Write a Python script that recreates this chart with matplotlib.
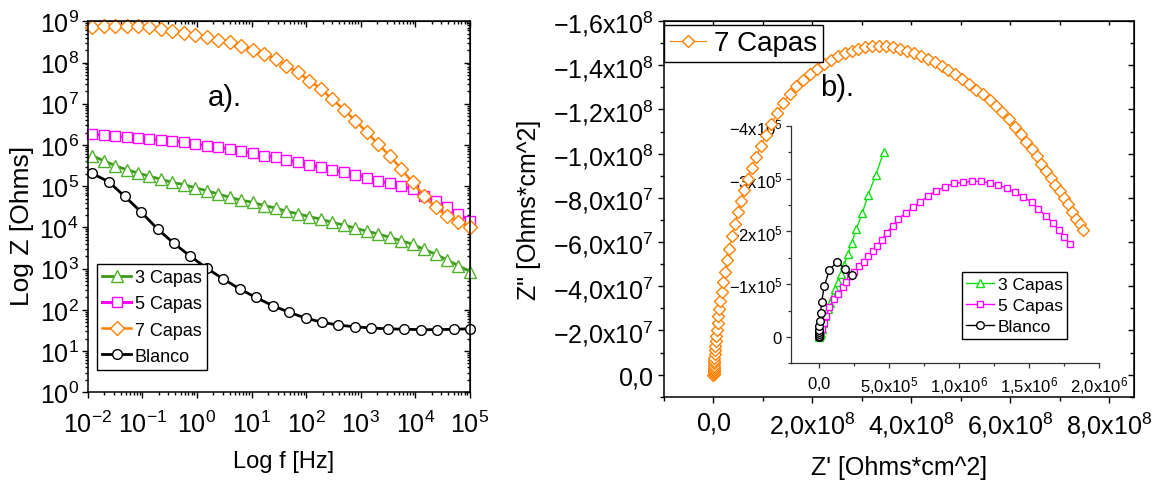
import numpy as np
import matplotlib
matplotlib.use("Agg")
import matplotlib.pyplot as plt
from matplotlib.ticker import (LogLocator, NullFormatter, LogFormatterMathtext,
                               MultipleLocator, FuncFormatter)

plt.rcParams['font.family'] = ['Liberation Sans', 'DejaVu Sans']
plt.rcParams['mathtext.fontset'] = 'custom'
plt.rcParams['mathtext.rm'] = 'Liberation Sans'
plt.rcParams['mathtext.it'] = 'Liberation Sans:italic'
plt.rcParams['mathtext.bf'] = 'Liberation Sans:bold'

# ---- Bode data: log10(f / Hz) and log10(|Z| / Ohms) ----
logf_capas = [-1.92, -1.71, -1.50, -1.29, -1.08, -0.87, -0.66, -0.45, -0.24, -0.03,
              0.18, 0.39, 0.60, 0.81, 1.02, 1.23, 1.44, 1.64, 1.85, 2.06,
              2.27, 2.48, 2.69, 2.90, 3.11, 3.32, 3.53, 3.74, 3.95, 4.16,
              4.37, 4.58, 4.79, 5.00]
logz_3capas = [5.74, 5.62, 5.50, 5.40, 5.32, 5.24, 5.17, 5.09, 5.04, 4.96,
               4.89, 4.81, 4.73, 4.66, 4.61, 4.53, 4.47, 4.39, 4.33, 4.26,
               4.20, 4.12, 4.06, 3.98, 3.91, 3.84, 3.76, 3.68, 3.59, 3.47,
               3.35, 3.21, 3.07, 2.93]
logz_5capas = [6.27, 6.23, 6.21, 6.19, 6.17, 6.14, 6.12, 6.10, 6.06, 6.02,
               5.98, 5.94, 5.90, 5.85, 5.80, 5.74, 5.70, 5.64, 5.58, 5.52,
               5.46, 5.40, 5.34, 5.28, 5.21, 5.13, 5.07, 5.01, 4.92, 4.77,
               4.65, 4.49, 4.33, 4.16]
logz_7capas = [8.85, 8.88, 8.89, 8.89, 8.89, 8.85, 8.81, 8.77, 8.72, 8.67,
               8.61, 8.55, 8.49, 8.41, 8.31, 8.21, 8.09, 7.92, 7.76, 7.56,
               7.36, 7.11, 6.86, 6.59, 6.31, 6.02, 5.74, 5.42, 5.09, 4.77,
               4.49, 4.28, 4.14, 4.02]
logf_blanco = [-1.92, -1.62, -1.32, -1.02, -0.72, -0.42, -0.12, 0.18, 0.48, 0.78,
               1.08, 1.39, 1.69, 1.99, 2.29, 2.59, 2.89, 3.19, 3.49, 3.80,
               4.10, 4.40, 4.70, 5.00]
logz_blanco = [5.31, 5.11, 4.75, 4.37, 3.96, 3.61, 3.30, 3.01, 2.75, 2.51,
               2.30, 2.10, 1.94, 1.80, 1.70, 1.63, 1.59, 1.56, 1.54, 1.53,
               1.52, 1.52, 1.53, 1.54]

# ---- Nyquist, 7 Capas (x1e8 Ohms*cm^2), -Z'' kept positive ----
zre_7capas = [0.000, 0.001, 0.002, 0.003, 0.004, 0.006, 0.008, 0.011, 0.014, 0.018,
              0.023, 0.029, 0.036, 0.045, 0.056, 0.068, 0.082, 0.098, 0.117, 0.140,
              0.167, 0.198, 0.234, 0.275, 0.320, 0.37, 0.43, 0.49, 0.55, 0.62,
              0.69, 0.77, 0.86, 0.96, 1.06, 1.17, 1.29, 1.41, 1.54, 1.67,
              1.81, 1.95, 2.09, 2.23, 2.37, 2.51, 2.65, 2.79, 2.93, 3.07,
              3.21, 3.35, 3.49, 3.63, 3.77, 3.91, 4.05, 4.19, 4.33, 4.47,
              4.61, 4.75, 4.89, 5.03, 5.17, 5.31, 5.45, 5.58, 5.71, 5.84,
              5.97, 6.09, 6.21, 6.32, 6.43, 6.53, 6.63, 6.73, 6.82, 6.91,
              7.00, 7.08, 7.16, 7.24, 7.32, 7.40, 7.47]
zim_7capas = [0.000, 0.004, 0.009, 0.015, 0.022, 0.030, 0.040, 0.051, 0.063, 0.077,
              0.093, 0.110, 0.128, 0.150, 0.175, 0.202, 0.232, 0.264, 0.298, 0.335,
              0.375, 0.418, 0.465, 0.518, 0.570, 0.625, 0.680, 0.735, 0.785, 0.835,
              0.885, 0.935, 0.985, 1.035, 1.085, 1.135, 1.185, 1.230, 1.270, 1.305,
              1.335, 1.362, 1.385, 1.405, 1.423, 1.440, 1.455, 1.466, 1.475, 1.481,
              1.485, 1.487, 1.486, 1.481, 1.474, 1.465, 1.455, 1.443, 1.430, 1.415,
              1.398, 1.380, 1.360, 1.338, 1.314, 1.288, 1.268, 1.243, 1.215, 1.186,
              1.155, 1.122, 1.088, 1.054, 1.020, 0.988, 0.955, 0.922, 0.890, 0.860,
              0.830, 0.800, 0.770, 0.738, 0.705, 0.680, 0.655]

# ---- Nyquist inset (x1e5 Ohms*cm^2), -Z'' kept positive ----
zre_3capas = [0.00, 0.01, 0.02, 0.04, 0.06, 0.09, 0.13, 0.20, 0.32, 0.47,
              0.63, 0.80, 0.99, 1.18, 1.35, 1.59, 1.80, 2.08, 2.34, 2.68,
              3.09, 3.51, 4.06, 4.63]
zim_3capas = [0.00, 0.01, 0.015, 0.025, 0.035, 0.05, 0.08, 0.15, 0.27, 0.40,
              0.53, 0.65, 0.78, 0.905, 1.04, 1.19, 1.37, 1.565, 1.785, 2.05,
              2.345, 2.69, 3.07, 3.51]
zre_5capas = [0.00, 0.01, 0.02, 0.04, 0.06, 0.10, 0.21, 0.35, 0.52, 0.75,
              1.06, 1.35, 1.70, 1.95, 2.23, 2.54, 2.90, 3.21, 3.52, 3.85,
              4.14, 4.47, 4.85, 5.28, 5.64, 6.19, 6.71, 7.24, 7.81, 8.39,
              9.01, 9.63, 10.25, 10.89, 11.54, 12.20, 12.80, 13.40, 13.99, 14.59,
              15.19, 15.66, 16.19, 16.69, 17.10, 17.50, 17.93]
zim_5capas = [0.00, 0.01, 0.02, 0.03, 0.04, 0.06, 0.15, 0.27, 0.40, 0.56,
              0.72, 0.82, 0.95, 1.04, 1.15, 1.24, 1.34, 1.43, 1.54, 1.63,
              1.73, 1.84, 1.98, 2.11, 2.23, 2.35, 2.46, 2.56, 2.68, 2.77,
              2.85, 2.91, 2.93, 2.95, 2.95, 2.92, 2.88, 2.82, 2.74, 2.66,
              2.55, 2.42, 2.30, 2.16, 2.03, 1.90, 1.76]
zre_blanco = [0.00, 0.00, 0.00, 0.01, 0.02, 0.04, 0.08, 0.13, 0.20, 0.40,
              0.75, 1.30, 1.87, 2.40]
zim_blanco = [0.00, 0.02, 0.05, 0.09, 0.13, 0.20, 0.30, 0.46, 0.67, 0.97,
              1.27, 1.42, 1.29, 1.17]

GREEN = '#4fb12c'
GREEN_LINE = '#3c9a1c'
LIME = '#10e010'
MAGENTA = '#ff00ff'
ORANGE = '#ff7f00'


def comma_sci(decimals, tail=''):
    # tick labels like "-1,6x10^8" with a decimal comma
    def fmt(v, pos):
        if abs(v) < 1e-6:
            m = '0{,}0' if decimals else '0'
            return r'$\mathregular{' + m + tail + '}$'
        e = int(np.floor(np.log10(abs(v)) + 1e-9))
        m = f'{v / 10 ** e:.{decimals}f}'.replace('.', '{,}')
        return r'$\mathregular{' + m + r'x10^{' + str(e) + '}' + tail + '}$'
    return FuncFormatter(fmt)


fig = plt.figure(figsize=(11.67, 4.89), dpi=100)

# ================= a) Bode plot =================
ax1 = fig.add_axes([0.0752, 0.1957, 0.3275, 0.7587])
ax1.set_xscale('log')
ax1.set_yscale('log')

ax1.plot(10 ** np.array(logf_capas), 10 ** np.array(logz_3capas), '-', color=GREEN_LINE,
         lw=2, marker='^', ms=8.5, mfc='white', mec=GREEN, mew=1, label='3 Capas', clip_on=False)
ax1.plot(10 ** np.array(logf_capas), 10 ** np.array(logz_5capas), '-', color=MAGENTA,
         lw=2.2, marker='s', ms=7, mfc='white', mec=MAGENTA, mew=1, label='5 Capas', clip_on=False)
ax1.plot(10 ** np.array(logf_capas), 10 ** np.array(logz_7capas), '-', color=ORANGE,
         lw=1.8, marker='D', ms=6.8, mfc='white', mec=ORANGE, mew=1, label='7 Capas', clip_on=False)
ax1.plot(10 ** np.array(logf_blanco), 10 ** np.array(logz_blanco), '-', color='black',
         lw=2, marker='o', ms=7, mfc='white', mec='black', mew=1, label='Blanco', clip_on=False)

ax1.set_xlim(1e-2, 1e5)
ax1.set_ylim(1, 1e9)
for axis in (ax1.xaxis, ax1.yaxis):
    axis.set_major_locator(LogLocator(base=10, numticks=20))
    axis.set_minor_locator(LogLocator(base=10, subs=np.arange(2, 10), numticks=100))
    axis.set_major_formatter(LogFormatterMathtext())
    axis.set_minor_formatter(NullFormatter())
ax1.tick_params(which='both', direction='out', labelsize=18, width=1)
ax1.tick_params(which='major', length=4.5)
ax1.tick_params(which='minor', length=2.5)
ax1.tick_params(axis='x', pad=9)
ax1.tick_params(axis='y', pad=2)

for loc in ('top', 'right'):
    sec = ax1.secondary_xaxis('top') if loc == 'top' else ax1.secondary_yaxis('right')
    axis = sec.xaxis if loc == 'top' else sec.yaxis
    axis.set_major_locator(LogLocator(base=10, numticks=20))
    axis.set_minor_locator(LogLocator(base=10, subs=np.arange(2, 10), numticks=100))
    axis.set_major_formatter(NullFormatter())
    axis.set_minor_formatter(NullFormatter())
    sec.tick_params(which='both', direction='in', width=1)
    sec.tick_params(which='major', length=4.5)
    sec.tick_params(which='minor', length=2.5)

for sp in ax1.spines.values():
    sp.set_linewidth(1.1)

ax1.set_xlabel('Log f [Hz]', fontsize=17)
ax1.set_ylabel('Log Z [Ohms]', fontsize=19)
ax1.xaxis.set_label_coords(0.513, -0.155)
ax1.yaxis.set_label_coords(-0.14, 0.45)
fig.text(0.193, 0.80, 'a).', fontsize=21, ha='center', va='center')

ax1.legend(loc='upper left', bbox_to_anchor=(0.0829, 0.458), bbox_transform=fig.transFigure,
           fontsize=13, frameon=True, fancybox=False, edgecolor='black', framealpha=1,
           borderaxespad=0, borderpad=0.3, labelspacing=0.5, handlelength=1.6,
           handletextpad=0.2).get_frame().set_linewidth(1)

# ================= b) Nyquist plot =================
ax2 = fig.add_axes([0.569, 0.1867, 0.4027, 0.7683])
ax2.set_zorder(2)
ax2.patch.set_visible(False)
ax2.plot(np.array(zre_7capas) * 1e8, -np.array(zim_7capas) * 1e8, '-', color=ORANGE, lw=0.8,
         marker='D', ms=6.6, mfc='white', mec=ORANGE, mew=1, label='7 Capas')
ax2.set_xlim(-1e8, 8.5e8)
ax2.set_ylim(1e7, -1.6e8)
ax2.xaxis.set_major_locator(MultipleLocator(2e8))
ax2.xaxis.set_minor_locator(MultipleLocator(1e8))
ax2.yaxis.set_major_locator(MultipleLocator(2e7))
ax2.yaxis.set_minor_locator(MultipleLocator(1e7))
ax2.xaxis.set_major_formatter(comma_sci(1))
ax2.yaxis.set_major_formatter(comma_sci(1))
ax2.tick_params(which='both', direction='out', labelsize=18, width=1)
ax2.tick_params(which='major', length=4.5)
ax2.tick_params(which='minor', length=3)
ax2.tick_params(axis='x', pad=5)
ax2.tick_params(axis='y', pad=3)

sec = ax2.secondary_xaxis('top')
sec.xaxis.set_major_locator(MultipleLocator(2e8))
sec.xaxis.set_minor_locator(MultipleLocator(1e8))
sec.xaxis.set_major_formatter(NullFormatter())
sec.tick_params(which='both', direction='in', length=3, width=1)
sec = ax2.secondary_yaxis('right')
sec.yaxis.set_major_locator(MultipleLocator(2e7))
sec.yaxis.set_minor_locator(MultipleLocator(1e7))
sec.yaxis.set_major_formatter(NullFormatter())
sec.tick_params(which='major', direction='in', length=4.5, width=1)
sec.tick_params(which='minor', direction='in', length=3, width=1)

for sp in ax2.spines.values():
    sp.set_linewidth(1.1)

ax2.set_xlabel("Z' [Ohms*cm^2]", fontsize=18)
ax2.set_ylabel('Z" [Ohms*cm^2]', fontsize=18)
ax2.xaxis.set_label_coords(0.5, -0.155)
ax2.yaxis.set_label_coords(-0.262, 0.5)
fig.text(0.717, 0.82, 'b).', fontsize=21, ha='center', va='center')

ax2.legend(loc='upper left', bbox_to_anchor=(0.569, 0.947), bbox_transform=fig.transFigure,
           fontsize=20, frameon=True, fancybox=False, edgecolor='black', framealpha=1,
           borderaxespad=0, borderpad=0.2, handlelength=1.3,
           handletextpad=0.3).get_frame().set_linewidth(1)

# ---- inset ----
ax3 = fig.add_axes([0.6776, 0.255, 0.2644, 0.4853])
ax3.set_zorder(1)
ax3.patch.set_visible(False)
ax3.plot(np.array(zre_3capas) * 1e5, -np.array(zim_3capas) * 1e5, '-', color=LIME, lw=1,
         marker='^', ms=5.5, mfc='white', mec=LIME, mew=1, label='3 Capas')
ax3.plot(np.array(zre_5capas) * 1e5, -np.array(zim_5capas) * 1e5, '-', color=MAGENTA, lw=1,
         marker='s', ms=5, mfc='white', mec=MAGENTA, mew=1, label='5 Capas')
ax3.plot(np.array(zre_blanco) * 1e5, -np.array(zim_blanco) * 1e5, '-', color='black', lw=1,
         marker='o', ms=5.5, mfc='white', mec='black', mew=1, label='Blanco')
ax3.set_xlim(-2e5, 2e6)
ax3.set_ylim(5e4, -4e5)
ax3.spines['top'].set_visible(False)
ax3.spines['right'].set_visible(False)
for sp in ('left', 'bottom'):
    ax3.spines[sp].set_linewidth(0.9)
    ax3.spines[sp].set_color('#333333')
ax3.xaxis.set_major_locator(MultipleLocator(5e5))
ax3.xaxis.set_minor_locator(MultipleLocator(2.5e5))
ax3.yaxis.set_major_locator(MultipleLocator(1e5))
ax3.yaxis.set_minor_locator(MultipleLocator(5e4))
ax3.xaxis.set_major_formatter(comma_sci(1, tail=r'\quad'))
ax3.yaxis.set_major_formatter(comma_sci(0))
ax3.tick_params(which='both', direction='out', labelsize=12, width=0.9, color='#333333')
ax3.tick_params(which='major', length=3.5)
ax3.tick_params(which='minor', length=2)
ax3.tick_params(axis='x', pad=4)
ax3.tick_params(axis='y', pad=2)

ax3.legend(loc='upper left', bbox_to_anchor=(0.824, 0.441), bbox_transform=fig.transFigure,
           fontsize=12.5, frameon=True, fancybox=False, edgecolor='black', framealpha=1,
           borderaxespad=0, borderpad=0.25, labelspacing=0.35, handlelength=1.6,
           handletextpad=0.25).get_frame().set_linewidth(1)

fig.savefig('out.png', dpi=100)
